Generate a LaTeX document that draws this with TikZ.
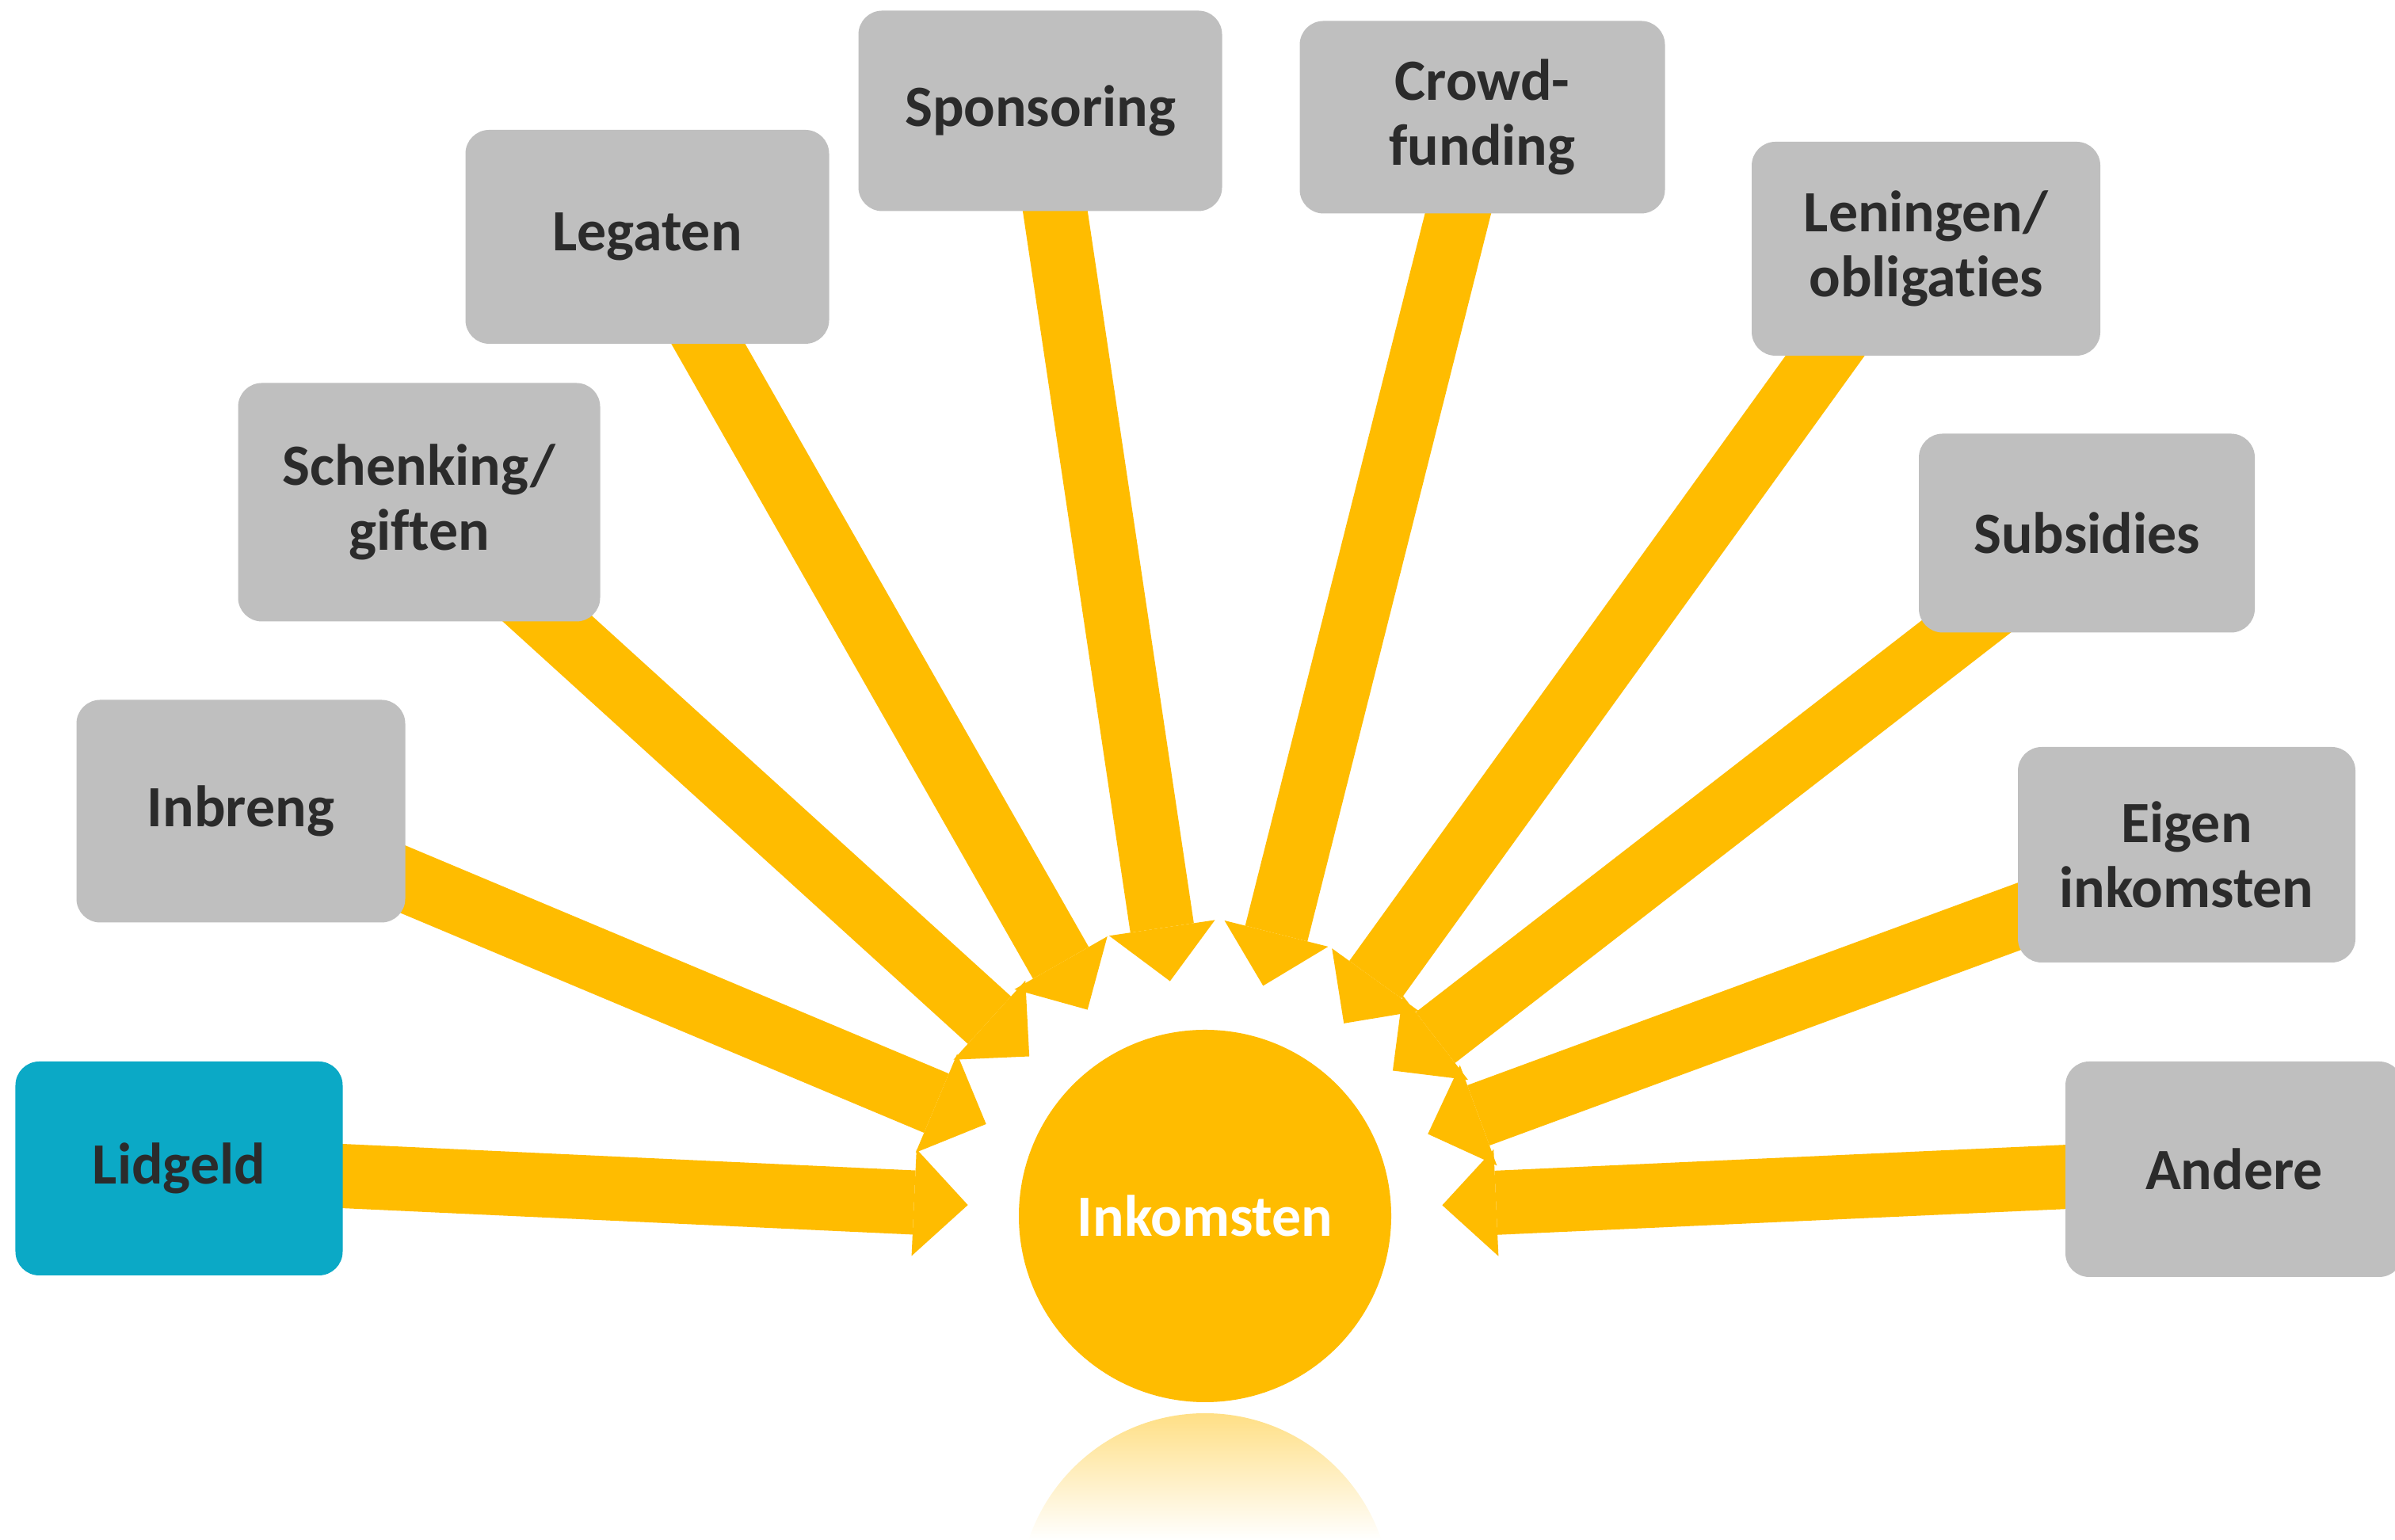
\documentclass[tikz,border=0pt]{standalone}
\usepackage{fontspec}
\setmainfont{Carlito}[Ligatures={NoCommon}]
\usepackage{tikz}
\usetikzlibrary{arrows.meta,positioning,backgrounds}
\definecolor{inkgold}{HTML}{FFBC00}
\definecolor{boxgrey}{HTML}{BFBFBF}
\definecolor{lidteal}{HTML}{0BA9C6}
\definecolor{inkdark}{HTML}{2B2B2B}

\begin{document}
\begin{tikzpicture}[
  box/.style={rectangle,rounded corners=0.3cm,fill=boxgrey,text=inkdark,align=center,inner sep=0pt,
    font=\fontsize{21}{23.5}\selectfont\bfseries},
  feed/.style={draw=inkgold,line width=0.81cm,shorten >=0.64cm,
    -{Triangle[width=1.35cm,length=0.68cm,line width=0pt]}}]
  \useasboundingbox (0,0) rectangle (30.23,19.44);
  \node[circle,fill=inkgold,minimum size=4.7cm,inner sep=0pt,text=white,font=\fontsize{21}{23.5}\selectfont\bfseries] (inkomsten) at (15.21,4.09) {Inkomsten};
  \node[box,fill=lidteal,minimum width=4.13cm,minimum height=2.70cm] (lidgeld) at (2.26,4.69) {Lidgeld};
  \node[box,minimum width=4.15cm,minimum height=2.81cm] (inbreng) at (3.04,9.20) {Inbreng};
  \node[box,minimum width=4.57cm,minimum height=3.01cm] (schenking) at (5.29,13.10) {Schenking/\\giften};
  \node[box,minimum width=4.59cm,minimum height=2.70cm] (legaten) at (8.17,16.45) {Legaten};
  \node[box,minimum width=4.59cm,minimum height=2.53cm] (sponsoring) at (13.13,18.04) {Sponsoring};
  \node[box,minimum width=4.61cm,minimum height=2.43cm] (crowd) at (18.71,17.96) {Crowd-\\funding};
  \node[box,minimum width=4.40cm,minimum height=2.70cm] (leningen) at (24.31,16.30) {Leningen/\\obligaties};
  \node[box,minimum width=4.24cm,minimum height=2.51cm] (subsidies) at (26.34,12.71) {Subsidies};
  \node[box,minimum width=4.26cm,minimum height=2.72cm] (eigen) at (27.60,8.65) {Eigen\\inkomsten};
  \node[box,minimum width=4.26cm,minimum height=2.72cm] (andere) at (28.20,4.68) {Andere};
  \begin{scope}[on background layer]
    \draw[feed] (lidgeld.center) -- (inkomsten);
    \draw[feed] (inbreng.center) -- (inkomsten);
    \draw[feed] (schenking.center) -- (inkomsten);
    \draw[feed] (legaten.center) -- (inkomsten);
    \draw[feed] (sponsoring.center) -- (inkomsten);
    \draw[feed] (crowd.center) -- (inkomsten);
    \draw[feed] ([xshift=-0.3cm]leningen.center) -- (inkomsten);
    \draw[feed] (subsidies.center) -- (inkomsten);
    \draw[feed] (eigen.center) -- (inkomsten);
    \draw[feed] (andere.center) -- (inkomsten);
  \end{scope}
  \begin{scope}
    \clip (inkomsten.center) ++(0,-4.84) circle (2.35cm);
    \shade[top color=inkgold!48,bottom color=white] (12.8,0) rectangle (17.6,1.61);
  \end{scope}
\end{tikzpicture}
\end{document}
